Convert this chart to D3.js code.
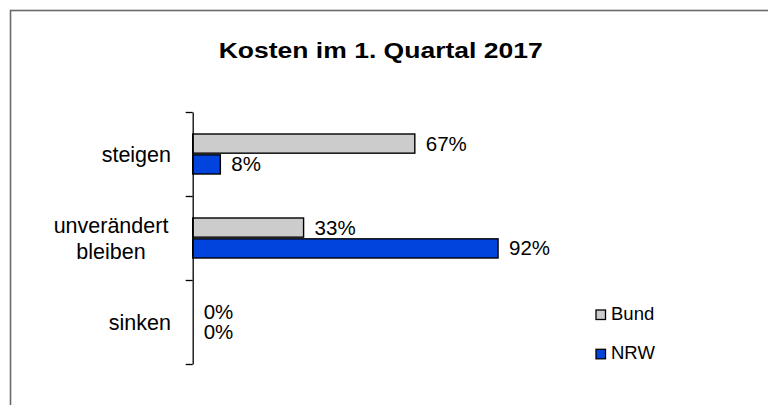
<!DOCTYPE html>
<html>
<head>
<meta charset="utf-8">
<script src="https://cdn.jsdelivr.net/npm/d3@7"></script>
<style>
  html, body { margin: 0; padding: 0; background: #fff; }
  svg { display: block; font-family: "Liberation Sans", Arial, Helvetica, sans-serif; }
</style>
</head>
<body>
<svg id="chart" width="768" height="405"></svg>
<script>
// ---- data ----
const title = "Kosten im 1. Quartal 2017";
const categories = ["steigen", "unverändert bleiben", "sinken"];
const categoryLines = [["steigen"], ["unverändert", "bleiben"], ["sinken"]];
const seriesNames = ["Bund", "NRW"];
const bundValues = [66.7, 33.3, 0];
const nrwValues = [8.3, 91.7, 0];
const seriesColors = ["#cccccc", "#0044dd"];

// ---- layout ----
const svg = d3.select("#chart");
const plotLeft = 192.7, plotTop = 112, plotBottom = 364;
const x = d3.scaleLinear().domain([0, 100]).range([plotLeft, plotLeft + 333]);
const y = d3.scaleBand().domain(categories).range([plotTop, plotBottom]).padding(0);
const ySub = d3.scaleBand().domain(seriesNames).range([22, 62]).paddingInner(0.08);
const fmt = d3.format(".0f");

// frame
svg.append("rect")
  .attr("x", 10.5).attr("y", 10.5).attr("width", 800).attr("height", 500)
  .attr("fill", "none").attr("stroke", "#6a6a6a").attr("stroke-width", 1.6);

// title
svg.append("text")
  .attr("x", 380.7).attr("y", 58.3)
  .attr("text-anchor", "middle")
  .attr("font-size", 22.5).attr("font-weight", "bold").attr("fill", "#000")
  .attr("textLength", 324).attr("lengthAdjust", "spacingAndGlyphs")
  .text(title);

// bars
const rows = categories.map((c, i) => ({
  cat: c,
  vals: [bundValues[i], nrwValues[i]]
}));

const g = svg.append("g");
rows.forEach(r => {
  r.vals.forEach((v, j) => {
    const s = seriesNames[j];
    const yy = y(r.cat) + ySub(s);
    if (v > 0) {
      g.append("rect")
        .attr("x", x(0)).attr("y", yy)
        .attr("width", x(v) - x(0)).attr("height", ySub.bandwidth())
        .attr("fill", seriesColors[j]).attr("stroke", "#000").attr("stroke-width", 1.4);
    }
    g.append("text")
      .attr("x", x(v) + 11).attr("y", yy + ySub.bandwidth() / 2 + 7)
      .attr("font-size", 20.5).attr("fill", "#000")
      .text(fmt(v) + "%");
  });
});

// axis with ticks at band boundaries
const yEdge = d3.scaleLinear().domain([0, categories.length]).range([plotTop, plotBottom]);
const axis = svg.append("g").attr("transform", `translate(${plotLeft},0)`)
  .call(d3.axisLeft(yEdge).tickValues(d3.range(categories.length + 1)).tickFormat("").tickSizeInner(7).tickSizeOuter(0));
axis.selectAll("path, line").attr("stroke", "#000").attr("stroke-width", 1.3);

// category labels
categories.forEach((c, i) => {
  const lines = categoryLines[i];
  const cy = y(c) + y.bandwidth() / 2;
  const lh = 25.6;
  const t = svg.append("text")
    .attr("font-size", 21.5).attr("fill", "#000");
  lines.forEach((ln, k) => {
    const by = cy + 7.7 + (k - (lines.length - 1) / 2) * lh;
    t.append("tspan")
      .attr("x", lines.length > 1 ? 111 : 171)
      .attr("text-anchor", lines.length > 1 ? "middle" : "end")
      .attr("y", by).text(ln);
  });
});

// legend
const legend = svg.append("g");
seriesNames.forEach((s, j) => {
  const ly = 310 + j * 39.3;
  legend.append("rect")
    .attr("x", 596).attr("y", ly).attr("width", 9.5).attr("height", 9.5)
    .attr("fill", seriesColors[j]).attr("stroke", "#000").attr("stroke-width", 1.3);
  legend.append("text")
    .attr("x", 611).attr("y", ly + 10)
    .attr("font-size", 18.5).attr("fill", "#000")
    .text(s);
});
</script>
</body>
</html>
